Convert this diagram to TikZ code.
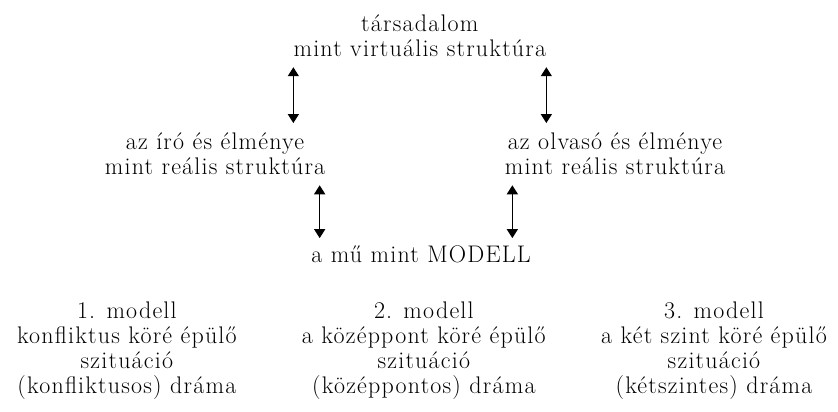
\documentclass[tikz,border=0pt]{standalone}
\usepackage{fontspec}
\setmainfont{Latin Modern Roman}[LetterSpace=5]
\usetikzlibrary{arrows.meta, calc}
\begin{document}
\begin{tikzpicture}[>={Triangle[length=9pt,width=11pt]},
  t/.style={align=center, inner sep=0pt, font=\fontsize{24}{25}\selectfont},
  a/.style={<->, line width=1.4pt}]
\useasboundingbox (0,0) rectangle (29.46,-14.45);
\node[t] (tars) at (14.76,-1.27) {társadalom\\mint virtuális struktúra};
\node[t] (iro) at (7.56,-5.42) {az író és élménye\\mint reális struktúra};
\node[t] (olv) at (21.62,-5.42) {az olvasó és élménye\\mint reális struktúra};
\node[t] (mu) at (14.80,-8.93) {a mű mint MODELL};
\node[t] (m1) at (4.46,-12.34) {1. modell\\konfliktus köré épülő\\szituáció\\(konfliktusos) dráma};
\node[t] (m2) at (14.90,-12.34) {2. modell\\a középpont köré épülő\\szituáció\\(középpontos) dráma};
\node[t] (m3) at (25.10,-12.34) {3. modell\\a két szint köré épülő\\szituáció\\(kétszintes) dráma};
\coordinate (p1) at ([xshift=3mm]mu.north west);
\coordinate (p2) at ([xshift=-6.5mm]mu.north east);
\draw[a] ([yshift=-3.5mm]tars.south west) -- ($(tars.south west |- iro.north)+(0,3.5mm)$);
\draw[a] ([yshift=-3.5mm]tars.south east) -- ($(tars.south east |- olv.north)+(0,3.5mm)$);
\draw[a] ($(p1 |- iro.south)+(0,-3.5mm)$) -- ([yshift=2.5mm]p1);
\draw[a] ($(p2 |- olv.south)+(0,-3.5mm)$) -- ([yshift=2.5mm]p2);
\end{tikzpicture}
\end{document}
